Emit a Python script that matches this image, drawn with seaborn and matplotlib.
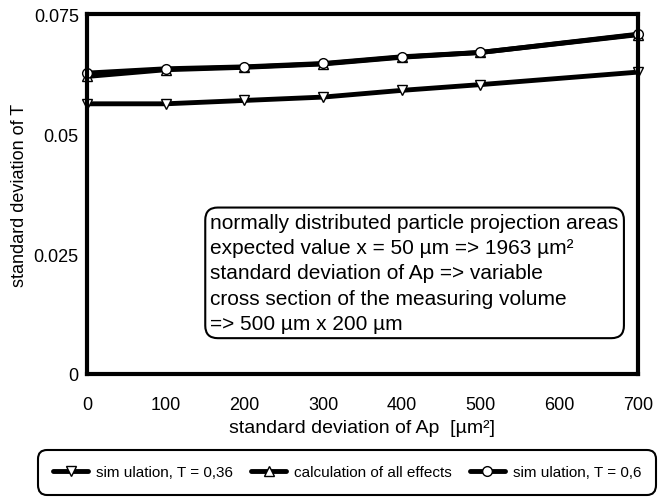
import matplotlib
matplotlib.use("Agg")
import matplotlib.pyplot as plt
from matplotlib.ticker import MultipleLocator
import seaborn as sns
import pandas as pd

x_values = [0, 100, 200, 300, 400, 500, 700]
sim_036 = [0.0563, 0.0563, 0.0570, 0.0577, 0.0591, 0.0603, 0.0629]
calc_all = [0.0620, 0.0634, 0.0639, 0.0646, 0.0660, 0.0670, 0.0707]
sim_06 = [0.0627, 0.0636, 0.0640, 0.0647, 0.0661, 0.0670, 0.0708]
series_names = ["sim ulation, T = 0,36", "calculation of all effects", "sim ulation, T = 0,6"]
x_ticks = [0, 100, 200, 300, 400, 500, 600, 700]
y_ticks = [0, 0.025, 0.05, 0.075]
y_tick_labels = ["0", "0.025", "0.05", "0.075"]

sns.set_theme(style="white")
plt.rcParams['font.family'] = ['Liberation Sans', 'DejaVu Sans']
plt.rcParams['text.color'] = 'black'
plt.rcParams['axes.labelcolor'] = 'black'
plt.rcParams['xtick.color'] = 'black'
plt.rcParams['ytick.color'] = 'black'

fig = plt.figure(figsize=(6.7, 5.02), dpi=100)
ax = fig.add_axes([0.13, 0.253, 0.822, 0.717])

markers = ["v", "^", "o"]
for name, vals, m in zip(series_names, [sim_036, calc_all, sim_06], markers):
    df = pd.DataFrame({"x": x_values, "y": vals})
    sns.lineplot(data=df, x="x", y="y", ax=ax, color="black", linewidth=3.5,
                 marker=m, markersize=7, markerfacecolor="white",
                 markeredgecolor="black", markeredgewidth=1.0, label=name,
                 legend=False, clip_on=False)

ax.set_xlim(0, 700)
ax.set_ylim(0, 0.075)
ax.set_xticks(x_ticks)
ax.set_xticklabels([str(t) for t in x_ticks], fontsize=13)
ax.set_yticks(y_ticks)
ax.set_yticklabels(y_tick_labels, fontsize=13)
ax.xaxis.set_minor_locator(MultipleLocator(50))
ax.tick_params(axis="x", which="both", pad=16, length=3, width=0.8, direction="in")
ax.tick_params(axis="y", pad=6, length=3, width=0.8, direction="in")
for s in ax.spines.values():
    s.set_linewidth(3)
    s.set_color("black")
ax.set_xlabel("standard deviation of Ap  [\u00b5m\u00b2]", fontsize=14, labelpad=4)
ax.set_ylabel("standard deviation of T", fontsize=13, labelpad=4)

box_text = ("normally distributed particle projection areas\n"
            "expected value x = 50 \u00b5m => 1963 \u00b5m\u00b2\n"
            "standard deviation of Ap => variable\n"
            "cross section of the measuring volume\n"
            "=> 500 \u00b5m x 200 \u00b5m")
ax.text(0.224, 0.281, box_text, transform=ax.transAxes, fontsize=15,
        ha="left", va="center", linespacing=1.42,
        bbox=dict(boxstyle="round,pad=0.25,rounding_size=0.6", facecolor="white",
                  edgecolor="black", linewidth=1.5))

handles, labels = ax.get_legend_handles_labels()
leg = fig.legend(handles, labels, loc="center", bbox_to_anchor=(0.518, 0.057),
                 ncol=3, fontsize=11, frameon=True, fancybox=True,
                 handlelength=2.3, columnspacing=1.2, handletextpad=0.5,
                 borderpad=0.8)
leg.get_frame().set_edgecolor("black")
leg.get_frame().set_linewidth(1.5)
leg.get_frame().set_boxstyle("round,pad=0.2,rounding_size=0.6")
leg.get_frame().set_alpha(1)

fig.savefig("out.png", dpi=100)
